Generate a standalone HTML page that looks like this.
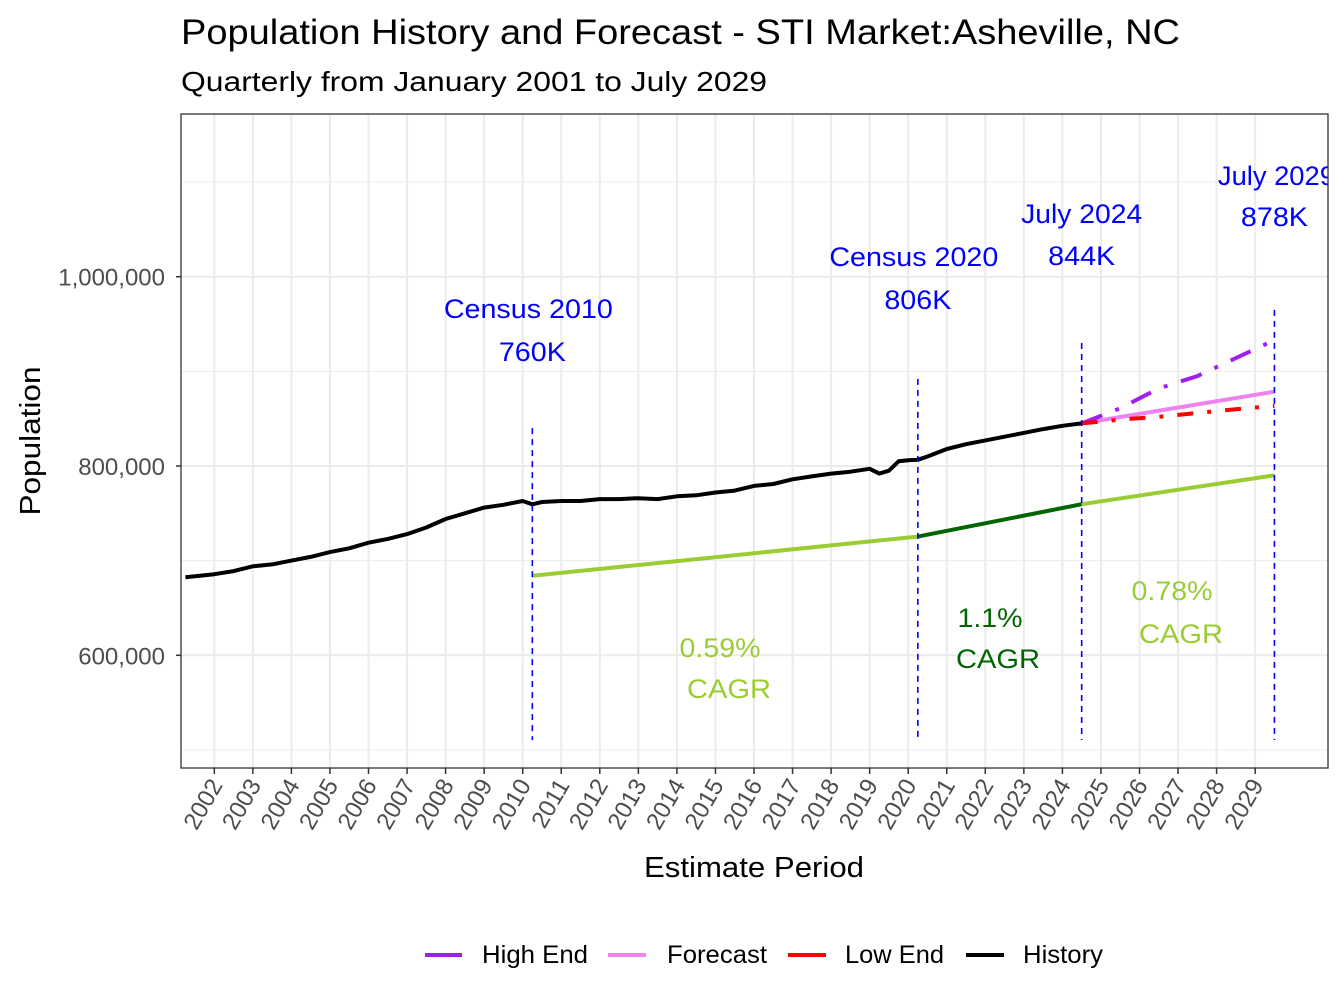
<!DOCTYPE html>
<html><head><meta charset="utf-8"><style>
html,body{margin:0;padding:0;background:#fff;}
svg{display:block;font-family:"Liberation Sans",Arial,sans-serif;}
</style></head><body>
<svg id="chart" width="1344" height="1008" viewBox="0 0 1344 1008" xmlns="http://www.w3.org/2000/svg">
<defs><clipPath id="panelClip"><rect x="181" y="114" width="1147" height="654"/></clipPath></defs>
<text x="181" y="44" font-size="35" fill="#000" textLength="999" lengthAdjust="spacingAndGlyphs">Population History and Forecast - STI Market:Asheville, NC</text>
<text x="181" y="91" font-size="28" fill="#000" textLength="586" lengthAdjust="spacingAndGlyphs">Quarterly from January 2001 to July 2029</text>
<g id="grid"></g>
<g id="marks" clip-path="url(#panelClip)"></g>
<rect x="181" y="114" width="1147" height="654" fill="none" stroke="#333" stroke-width="1.3"/>
<g id="axes"></g>
<text transform="translate(40,441) rotate(-90)" text-anchor="middle" font-size="29" fill="#000" textLength="149" lengthAdjust="spacingAndGlyphs">Population</text>
<text x="754" y="877" text-anchor="middle" font-size="29" fill="#000" textLength="220" lengthAdjust="spacingAndGlyphs">Estimate Period</text>
<g font-size="25" fill="#000">
<line x1="425" y1="955" x2="462" y2="955" stroke="#a020f0" stroke-width="4"/>
<text x="482" y="963" textLength="106" lengthAdjust="spacingAndGlyphs">High End</text>
<line x1="608" y1="955" x2="646" y2="955" stroke="#ee82ee" stroke-width="4"/>
<text x="667" y="963" textLength="100" lengthAdjust="spacingAndGlyphs">Forecast</text>
<line x1="788" y1="955" x2="826" y2="955" stroke="#ff0000" stroke-width="4"/>
<text x="845" y="963" textLength="99" lengthAdjust="spacingAndGlyphs">Low End</text>
<line x1="966" y1="955" x2="1004" y2="955" stroke="#000" stroke-width="4"/>
<text x="1023" y="963" textLength="80" lengthAdjust="spacingAndGlyphs">History</text>
</g>
</svg>
<script>
const histDates=[2001.25,2002,2002.5,2003,2003.5,2004,2004.5,2005,2005.5,2006,2006.5,2007,2007.5,2008,2008.5,2009,2009.5,2010,2010.25,2010.5,2011,2011.5,2012,2012.5,2013,2013.5,2014,2014.5,2015,2015.5,2016,2016.5,2017,2017.5,2018,2018.5,2019,2019.25,2019.5,2019.75,2020,2020.25,2020.5,2021,2021.5,2022,2022.5,2023,2023.5,2024,2024.5];
const histValues=[682500,685700,689000,694000,696000,700000,704000,709000,713000,719000,723000,728000,735000,744000,750000,756000,759000,763000,759500,762000,763000,763000,765000,765000,766000,765000,768000,769000,772000,774000,779000,781000,786000,789000,792000,794000,797000,792000,795000,805000,806000,806500,810000,818000,823000,827000,831000,835000,839000,842500,845000];
const fcDates=[2024.5,2029.5];
const fcValues=[845000,878500];
const highDates=[2024.5,2025.5,2026.5,2027.5,2028.5,2029.5];
const highValues=[845000,861000,882000,895000,914000,933000];
const lowDates=[2024.5,2025.5,2026.5,2027.5,2028.5,2029.5];
const lowValues=[845000,849000,852000,856000,860000,863500];
const cagrDates=[2010.25,2020.25,2024.5,2029.5];
const cagrValues=[684000,725400,759600,790200];
const cagrLabels=["0.59%","1.1%","0.78%"];
const markerDates=[2010.25,2020.25,2024.5,2029.5];
const markerTitles=["Census 2010","Census 2020","July 2024","July 2029"];
const markerValues=["760K","806K","844K","878K"];
const markerTops=[840000,892000,930000,965000];
const yTicks=[600000,800000,1000000];
const yTickLabels=["600,000","800,000","1,000,000"];
const yMinor=[500000,700000,900000,1100000];
const xYears=[2002,2003,2004,2005,2006,2007,2008,2009,2010,2011,2012,2013,2014,2015,2016,2017,2018,2019,2020,2021,2022,2023,2024,2025,2026,2027,2028,2029];

const NS="http://www.w3.org/2000/svg";
const X=d=>214.3+(d-2002)*38.55;
const Y=v=>466-(v-800000)/200000*189.3;
function mk(p,tag,a){const e=document.createElementNS(NS,tag);for(const k in a)e.setAttribute(k,a[k]);p.appendChild(e);return e;}
const grid=document.getElementById('grid'),marks=document.getElementById('marks'),axes=document.getElementById('axes');
yMinor.forEach(v=>{const l=mk(grid,'line',{x1:181,x2:1328,y1:Y(v),y2:Y(v),stroke:'#ebebeb','stroke-width':1});

});
yTicks.forEach((v,i)=>{const l=mk(grid,'line',{x1:181,x2:1328,y1:Y(v),y2:Y(v),stroke:'#ebebeb','stroke-width':2});


const t=mk(axes,'line',{x1:176,x2:181,y1:Y(v),y2:Y(v),stroke:'#333','stroke-width':1.5});


const tx=mk(axes,'text',{x:165,y:Y(v)+9,'text-anchor':'end','font-size':24,fill:'#4d4d4d'});tx.textContent=yTickLabels[i];

});
xYears.forEach(yr=>{const x=X(yr);const l=mk(grid,'line',{x1:x,x2:x,y1:114,y2:768,stroke:'#ebebeb','stroke-width':2});


const t=mk(axes,'line',{x1:x,x2:x,y1:768,y2:774,stroke:'#333','stroke-width':1.5});


const tx=mk(axes,'text',{transform:`translate(${x+9},${785}) rotate(-60)`,'text-anchor':'end','font-size':24,fill:'#4d4d4d'});tx.textContent=yr;

});
function path(ds,vs){return ds.map((d,i)=>(i?'L':'M')+X(d).toFixed(1)+','+Y(vs[i]).toFixed(1)).join(' ');}
const cagrColors=['#9acd32','#006400','#9acd32'];
for(let i=0;i<3;i++){const p=mk(marks,'path',{d:path([cagrDates[i],cagrDates[i+1]],[cagrValues[i],cagrValues[i+1]]),stroke:cagrColors[i],'stroke-width':4,fill:'none'});

}
let h=mk(marks,'path',{d:path(histDates,histValues),stroke:'#000','stroke-width':4,fill:'none','stroke-linejoin':'round'});


let f=mk(marks,'path',{d:path(fcDates,fcValues),stroke:'#ee82ee','stroke-width':4,fill:'none'});


let hi=mk(marks,'path',{d:path(highDates,highValues),stroke:'#a020f0','stroke-width':4,fill:'none','stroke-dasharray':'22,14,4,14'});


let lo=mk(marks,'path',{d:path(lowDates,lowValues),stroke:'#ff0000','stroke-width':4,fill:'none','stroke-dasharray':'16,14,4,14'});


const titleY=[318,266,223,185],valueY=[361,309,265,226],titleW=[169,169,121,117],titleDx=[-4,-4,0,2];
markerDates.forEach((d,i)=>{const x=X(d);
const l=mk(marks,'line',{x1:x,x2:x,y1:Y(markerTops[i]),y2:740,stroke:'#0000ff','stroke-width':1.6,'stroke-dasharray':'6,5'});


const t1=mk(marks,'text',{x:x+titleDx[i],y:titleY[i],'text-anchor':'middle','font-size':27,fill:'#0000ff',textLength:titleW[i],lengthAdjust:'spacingAndGlyphs'});t1.textContent=markerTitles[i];


const t2=mk(marks,'text',{x:x,y:valueY[i],'text-anchor':'middle','font-size':27,fill:'#0000ff',textLength:67,lengthAdjust:'spacingAndGlyphs'});t2.textContent=markerValues[i];

});
const cagrPos=[[720,657,729,698],[990,627,998,668],[1172,600,1181,643]];
const cagrW=[81,65,81];
cagrLabels.forEach((s,i)=>{const c=cagrColors[i];const p=cagrPos[i];
const a=mk(marks,'text',{x:p[0],y:p[1],'text-anchor':'middle','font-size':27,fill:c,textLength:cagrW[i],lengthAdjust:'spacingAndGlyphs'});a.textContent=s;


const b=mk(marks,'text',{x:p[2],y:p[3],'text-anchor':'middle','font-size':27,fill:c,textLength:84,lengthAdjust:'spacingAndGlyphs'});b.textContent='CAGR';

});
</script>
</body></html>
